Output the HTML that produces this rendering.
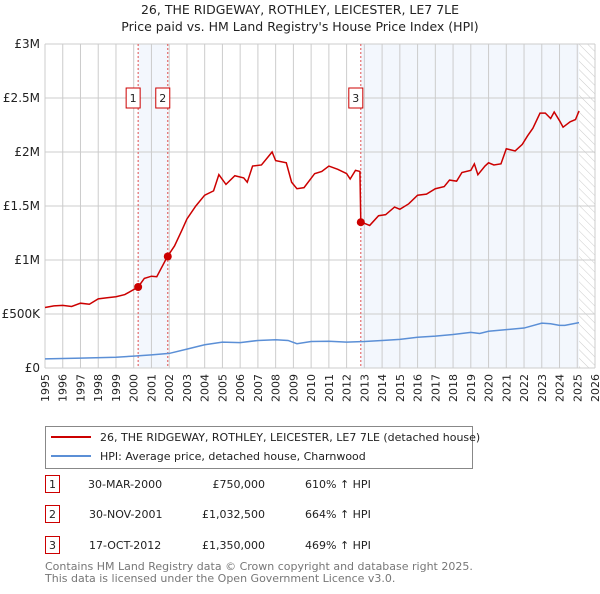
<!DOCTYPE html>
<html><head><meta charset="utf-8"><style>
body{margin:0;background:#fff;font-family:"DejaVu Sans","Liberation Sans",sans-serif;}
svg text{font-family:"DejaVu Sans","Liberation Sans",sans-serif;}
</style></head><body>
<svg id="c" width="600" height="590" viewBox="0 0 600 590" xmlns="http://www.w3.org/2000/svg">
<defs><pattern id="hatch" width="6" height="6" patternUnits="userSpaceOnUse" patternTransform="rotate(-45)"><line x1="0" y1="0" x2="0" y2="6" stroke="#ccc" stroke-width="1"/></pattern></defs>
<text x="300" y="14" text-anchor="middle" font-size="12.5" fill="#222">26, THE RIDGEWAY, ROTHLEY, LEICESTER, LE7 7LE</text>
<text x="300" y="31" text-anchor="middle" font-size="12.5" fill="#222">Price paid vs. HM Land Registry's House Price Index (HPI)</text>
<g id="plot"></g>
<g>
<rect x="45.5" y="426.5" width="427" height="42" fill="#fff" stroke="#888"/>
<line x1="51" y1="437" x2="91" y2="437" stroke="#cc0000" stroke-width="2"/>
<text x="100" y="441" font-size="11" fill="#222">26, THE RIDGEWAY, ROTHLEY, LEICESTER, LE7 7LE (detached house)</text>
<line x1="51" y1="456" x2="91" y2="456" stroke="#5b8fd6" stroke-width="2"/>
<text x="100" y="460" font-size="11" fill="#222">HPI: Average price, detached house, Charnwood</text>
</g>
<g font-size="11" fill="#222">
<rect x="45.5" y="475.5" width="14" height="17" fill="#fff" stroke="#cc0000"/><text x="52.5" y="488" text-anchor="middle">1</text>
<text x="88" y="488">30-MAR-2000</text><text x="265" y="488" text-anchor="end">£750,000</text><text x="305" y="488">610% ↑ HPI</text>
<rect x="45.5" y="505.5" width="14" height="17" fill="#fff" stroke="#cc0000"/><text x="52.5" y="518" text-anchor="middle">2</text>
<text x="89" y="518">30-NOV-2001</text><text x="265" y="518" text-anchor="end">£1,032,500</text><text x="305" y="518">664% ↑ HPI</text>
<rect x="45.5" y="536.5" width="14" height="17" fill="#fff" stroke="#cc0000"/><text x="52.5" y="549" text-anchor="middle">3</text>
<text x="89" y="549">17-OCT-2012</text><text x="265" y="549" text-anchor="end">£1,350,000</text><text x="305" y="549">469% ↑ HPI</text>
</g>
<text x="45" y="570" font-size="11" fill="#777">Contains HM Land Registry data © Crown copyright and database right 2025.</text>
<text x="45" y="582" font-size="11" fill="#777">This data is licensed under the Open Government Licence v3.0.</text>
</svg>
<script>
const yTicks=[0,500000,1000000,1500000,2000000,2500000,3000000];
const yTickLabels=["£0","£500K","£1M","£1.5M","£2M","£2.5M","£3M"];
const xYears=[1995,1996,1997,1998,1999,2000,2001,2002,2003,2004,2005,2006,2007,2008,2009,2010,2011,2012,2013,2014,2015,2016,2017,2018,2019,2020,2021,2022,2023,2024,2025,2026];
const redT=[1995,1995.5,1996,1996.5,1997,1997.5,1998,1998.5,1999,1999.5,2000.25,2000.6,2001,2001.3,2001.9,2002.3,2002.7,2003,2003.5,2004,2004.5,2004.8,2005.2,2005.7,2006.2,2006.4,2006.7,2007.2,2007.8,2008,2008.6,2008.9,2009.2,2009.6,2010.2,2010.6,2011,2011.5,2012,2012.2,2012.5,2012.75,2012.8,2013,2013.3,2013.8,2014.2,2014.7,2015,2015.5,2016,2016.5,2017,2017.5,2017.8,2018.2,2018.5,2019,2019.2,2019.4,2019.8,2020,2020.3,2020.7,2021,2021.5,2021.9,2022.2,2022.5,2022.9,2023.2,2023.5,2023.7,2024,2024.2,2024.6,2024.9,2025.1];
const redV=[560,575,580,570,600,590,640,650,660,680,750,830,850,845,1032,1130,1270,1380,1500,1600,1640,1790,1700,1780,1760,1720,1870,1880,2000,1920,1900,1720,1660,1670,1800,1820,1870,1840,1800,1750,1830,1820,1350,1340,1320,1410,1420,1490,1470,1520,1600,1610,1660,1680,1740,1730,1810,1830,1890,1790,1870,1900,1880,1890,2030,2010,2070,2150,2220,2360,2360,2310,2370,2290,2230,2280,2300,2380];
const hpiT=[1995,1997,1999,2000,2001,2002,2003,2004,2005,2006,2007,2008,2008.7,2009.2,2010,2011,2012,2013,2014,2015,2016,2017,2018,2019,2019.5,2020,2021,2022,2023,2023.5,2024,2024.3,2025.1];
const hpiV=[85,92,100,110,122,135,175,215,240,235,255,262,255,225,245,248,240,245,255,265,285,295,310,330,320,340,355,370,415,410,395,395,420];
const saleT=[2000.25,2001.92,2012.8];
const saleV=[750000,1032500,1350000];
const saleLabels=["1","2","3"];
const X0=45,X1=595,Y0=368,Y1=44;
const x=t=>X0+(t-1995)/(2026-1995)*(X1-X0);
const y=v=>Y0-v/3000000*(Y0-Y1);
const NS="http://www.w3.org/2000/svg";
const g=document.getElementById('plot');
function mk(tag,attrs){const e=document.createElementNS(NS,tag);for(const k in attrs)e.setAttribute(k,attrs[k]);g.appendChild(e);return e;}
let e;
e=mk('rect',{x:X0,y:Y1,width:X1-X0,height:Y0-Y1,fill:'#fff'});


e=mk('rect',{x:x(saleT[0]),y:Y1,width:x(saleT[1])-x(saleT[0]),height:Y0-Y1,fill:'#eef3fc',opacity:0.7});


e=mk('rect',{x:x(saleT[2]),y:Y1,width:x(2025.1)-x(saleT[2]),height:Y0-Y1,fill:'#eef3fc',opacity:0.7});


e=mk('rect',{x:x(2025.1),y:Y1,width:X1-x(2025.1),height:Y0-Y1,fill:'url(#hatch)'});


xYears.forEach(t=>{e=mk('line',{x1:x(t),x2:x(t),y1:Y1,y2:Y0,stroke:'#ccc','stroke-width':1});


e=mk('text',{x:0,y:0,transform:`translate(${x(t)+4},${Y0+6}) rotate(-90)`,'text-anchor':'end','font-size':11,fill:'#222'});e.textContent=t;

});
yTicks.forEach((v,i)=>{e=mk('line',{x1:X0,x2:X1,y1:y(v),y2:y(v),stroke:'#ccc','stroke-width':1});


e=mk('text',{x:X0-5,y:y(v)+4,'text-anchor':'end','font-size':12,fill:'#222'});e.textContent=yTickLabels[i];

});
saleT.forEach((t,i)=>{e=mk('line',{x1:x(t),x2:x(t),y1:Y1,y2:Y0,stroke:'#e05050','stroke-width':1,'stroke-dasharray':'2,2'});


e=mk('rect',{x:x(t)-12,y:88,width:14,height:20,fill:'#fff',stroke:'#cc0000'});


e=mk('text',{x:x(t)-5,y:102,'text-anchor':'middle','font-size':11,fill:'#222'});e.textContent=saleLabels[i];

});
e=mk('polyline',{points:hpiT.map((t,i)=>x(t)+','+y(hpiV[i]*1000)).join(' '),fill:'none',stroke:'#5b8fd6','stroke-width':1.5});


e=mk('polyline',{points:redT.map((t,i)=>x(t)+','+y(redV[i]*1000)).join(' '),fill:'none',stroke:'#cc0000','stroke-width':1.5});


saleT.forEach((t,i)=>{e=mk('circle',{cx:x(t),cy:y(saleV[i]),r:4,fill:'#cc0000'});

});
</script>
</body></html>
